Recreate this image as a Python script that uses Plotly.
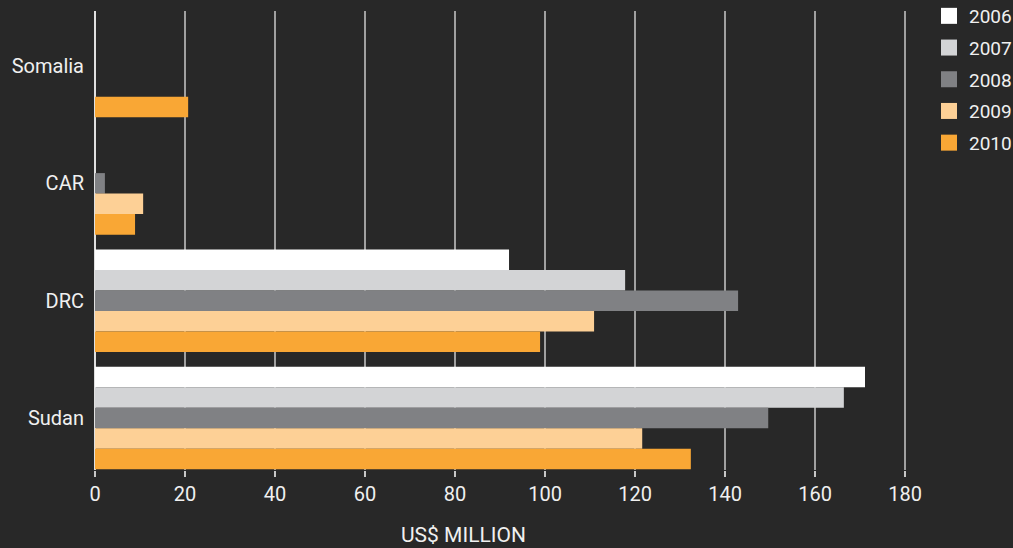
import plotly.graph_objects as go

countries = ["Somalia", "CAR", "DRC", "Sudan"]
years = ["2006", "2007", "2008", "2009", "2010"]
colors = ["#ffffff", "#d3d4d6", "#808184", "#fdd096", "#f9a735"]

v2006 = [None, None, 92, 171.1]
v2007 = [None, None, 117.8, 166.4]
v2008 = [None, 2.2, 142.9, 149.6]
v2009 = [None, 10.7, 110.9, 121.6]
v2010 = [20.7, 8.9, 98.9, 132.4]
values = [v2006, v2007, v2008, v2009, v2010]

W, H = 1013, 548
ML, MR, MT, MB = 95, 103, 11, 78
PW, PH = W - ML - MR, H - MT - MB

fig = go.Figure()
for yr, vals, c in zip(years, values, colors):
    fig.add_trace(go.Bar(y=countries, x=vals, orientation="h", name=yr,
        marker=dict(color=c, line=dict(width=0)), showlegend=False))
# legend proxies (bigger squares than plotly's bar swatch)
for yr, c in zip(years, colors):
    fig.add_trace(go.Scatter(x=[None], y=[None], mode="markers", name=yr, legendgroup=yr,
        marker=dict(symbol="square", size=16, color=c, line=dict(width=0))))

fig.update_layout(
    width=W, height=H, barmode="group", bargap=0.126, bargroupgap=0,
    paper_bgcolor="#282828", plot_bgcolor="#282828",
    font=dict(family="Roboto, DejaVu Sans", color="#f0f0f0", size=20),
    margin=dict(l=ML, r=MR, t=MT, b=MB, autoexpand=False),
    legend=dict(x=(929 - ML) / PW, xanchor="left", y=1 + 14 / PH, yanchor="top",
        traceorder="grouped", tracegroupgap=4, font=dict(size=19, color="#f0f0f0"),
        bgcolor="rgba(0,0,0,0)"),
    annotations=[dict(text="US$ MILLION", x=(463 - ML) / PW, xref="paper",
        y=(H - MB - 535) / PH, yref="paper", yanchor="middle", showarrow=False,
        font=dict(size=21, color="#f0f0f0"))],
)
fig.update_xaxes(range=[0, 181.1], tickvals=[0, 20, 40, 60, 80, 100, 120, 140, 160, 180],
    showgrid=True, gridcolor="#a0a0a0", gridwidth=1.5,
    zeroline=True, zerolinecolor="#e0e0e0", zerolinewidth=1.5,
    ticks="outside", ticklen=6, tickcolor="#c8c8c8", tickwidth=1.5,
    tickfont=dict(size=20), showline=False)
fig.update_yaxes(range=[3.443, -0.469], showgrid=False, ticks="", ticklabelstandoff=10,
    tickfont=dict(size=20), showline=False)

fig.write_html("out.html", config={"displayModeBar": False},
    post_script="document.body.style.margin='0';")
